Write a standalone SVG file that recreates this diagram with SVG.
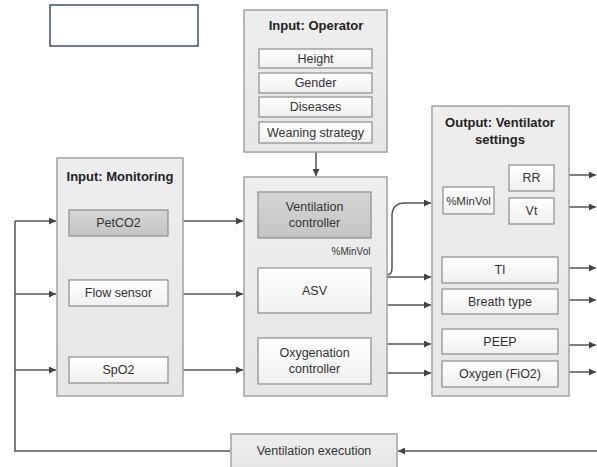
<svg xmlns="http://www.w3.org/2000/svg" width="597" height="467" viewBox="0 0 597 467">
<defs>
<marker id="ah" viewBox="0 0 10 10" refX="10" refY="5" markerWidth="7" markerHeight="7" orient="auto" markerUnits="userSpaceOnUse">
<path d="M0,0 L10,5 L0,10 z" fill="#444"/>
</marker>
<linearGradient id="panel" x1="0" y1="0" x2="0" y2="1">
<stop offset="0" stop-color="#eeeeee"/><stop offset="1" stop-color="#e6e6e6"/>
</linearGradient>
<linearGradient id="item" x1="0" y1="0" x2="0" y2="1">
<stop offset="0" stop-color="#ffffff"/><stop offset="1" stop-color="#f0f0f0"/>
</linearGradient>
<linearGradient id="dark" x1="0" y1="0" x2="0" y2="1">
<stop offset="0" stop-color="#d6d6d6"/><stop offset="1" stop-color="#c4c4c4"/>
</linearGradient>
</defs>
<style>
.panel{fill:url(#panel);stroke:#a3a3a3;stroke-width:1.5}
.item{fill:url(#item);stroke:#8c8c8c;stroke-width:1.2}
.dark{fill:url(#dark);stroke:#8c8c8c;stroke-width:1.2}
text{font-family:"Liberation Sans",Arial,sans-serif;fill:#333;font-size:12.5px;text-anchor:middle}
.title{font-weight:bold;fill:#222;font-size:13px}
.small{font-size:10px}
.tight{font-size:11.5px}
.ln{fill:none;stroke:#555;stroke-width:1.5}
.arr{fill:none;stroke:#555;stroke-width:1.5;marker-end:url(#ah)}
</style>
<rect x="50" y="5" width="148" height="41" fill="#fff" stroke="#3b4e7a" stroke-width="1.5"/>

<g id="connectors">
<path class="arr" d="M316,152 V176"/>
<path class="arr" d="M316,238 V267"/>
<path class="arr" d="M15,221 H56"/>
<path class="arr" d="M15,294 H56"/>
<path class="arr" d="M15,370 H56"/>
<path class="ln" d="M15,221 V451 H230"/>
<path class="arr" d="M183,221 H243"/>
<path class="arr" d="M183,294 H243"/>
<path class="arr" d="M183,370 H243"/>
<path class="arr" d="M387,275 Q392,275 392,268 V216 Q392,203 405,203 H431"/>
<path class="arr" d="M387,277 H431"/>
<path class="arr" d="M387,305 H431"/>
<path class="arr" d="M387,344 H431"/>
<path class="arr" d="M387,373 H431"/>
<path class="ln" d="M494,201 H500 M500,178 V211"/>
<path class="arr" d="M500,178 H508"/>
<path class="arr" d="M500,211 H508"/>
<path class="arr" d="M569,175 H596"/>
<path class="arr" d="M569,207 H596"/>
<path class="arr" d="M569,268 H596"/>
<path class="arr" d="M569,300 H596"/>
<path class="arr" d="M569,345 H596"/>
<path class="arr" d="M569,372 H596"/>
<path class="arr" d="M597,451 H398"/>
</g>

<g id="operator">
<rect class="panel" x="244" y="10" width="143" height="142"/>
<text class="title" x="316" y="30">Input: Operator</text>
<rect class="item" x="259" y="49" width="113" height="19"/><text x="315.5" y="63">Height</text>
<rect class="item" x="259" y="73" width="113" height="20"/><text x="315.5" y="87">Gender</text>
<rect class="item" x="259" y="97" width="113" height="20"/><text x="315.5" y="111">Diseases</text>
<rect class="item" x="259" y="122" width="113" height="21"/><text x="315.5" y="137">Weaning strategy</text>
</g>

<g id="monitoring">
<rect class="panel" x="57" y="158" width="126" height="238"/>
<text class="title" x="120" y="181">Input: Monitoring</text>
<rect class="dark" x="69" y="210" width="99" height="26"/><text x="118.5" y="227">PetCO2</text>
<rect class="item" x="69" y="280" width="99" height="26"/><text x="118.5" y="297">Flow sensor</text>
<rect class="item" x="69" y="357" width="99" height="26"/><text x="118.5" y="374">SpO2</text>
</g>

<g id="controller">
<rect class="panel" x="244" y="177" width="143" height="219"/>
<rect class="dark" x="258" y="192" width="113" height="46"/>
<text x="314.5" y="211">Ventilation</text><text x="314.5" y="227">controller</text>
<text class="small" x="351" y="255">%MinVol</text>
<rect class="item" x="258" y="268" width="113" height="45"/><text x="314.5" y="295">ASV</text>
<rect class="item" x="258" y="338" width="113" height="46"/>
<text x="314.5" y="357">Oxygenation</text><text x="314.5" y="373">controller</text>
</g>

<g id="output">
<rect class="panel" x="432" y="106" width="137" height="290"/>
<text class="title" x="500" y="127">Output: Ventilator</text>
<text class="title" x="500" y="144">settings</text>
<rect class="item" x="443" y="187" width="51" height="27"/><text class="tight" x="468.5" y="205">%MinVol</text>
<rect class="item" x="509" y="165" width="45" height="26"/><text x="531.5" y="182">RR</text>
<rect class="item" x="509" y="198" width="45" height="26"/><text x="531.5" y="215">Vt</text>
<rect class="item" x="442" y="257" width="116" height="26"/><text x="500" y="274">TI</text>
<rect class="item" x="442" y="289" width="116" height="25"/><text x="500" y="306">Breath type</text>
<rect class="item" x="442" y="329" width="116" height="25"/><text x="500" y="346">PEEP</text>
<rect class="item" x="442" y="361" width="116" height="26"/><text x="500" y="378">Oxygen (FiO2)</text>
</g>

<g id="execution">
<rect class="panel" x="231" y="434" width="166" height="34"/>
<text x="314" y="455">Ventilation execution</text>
</g>
</svg>
